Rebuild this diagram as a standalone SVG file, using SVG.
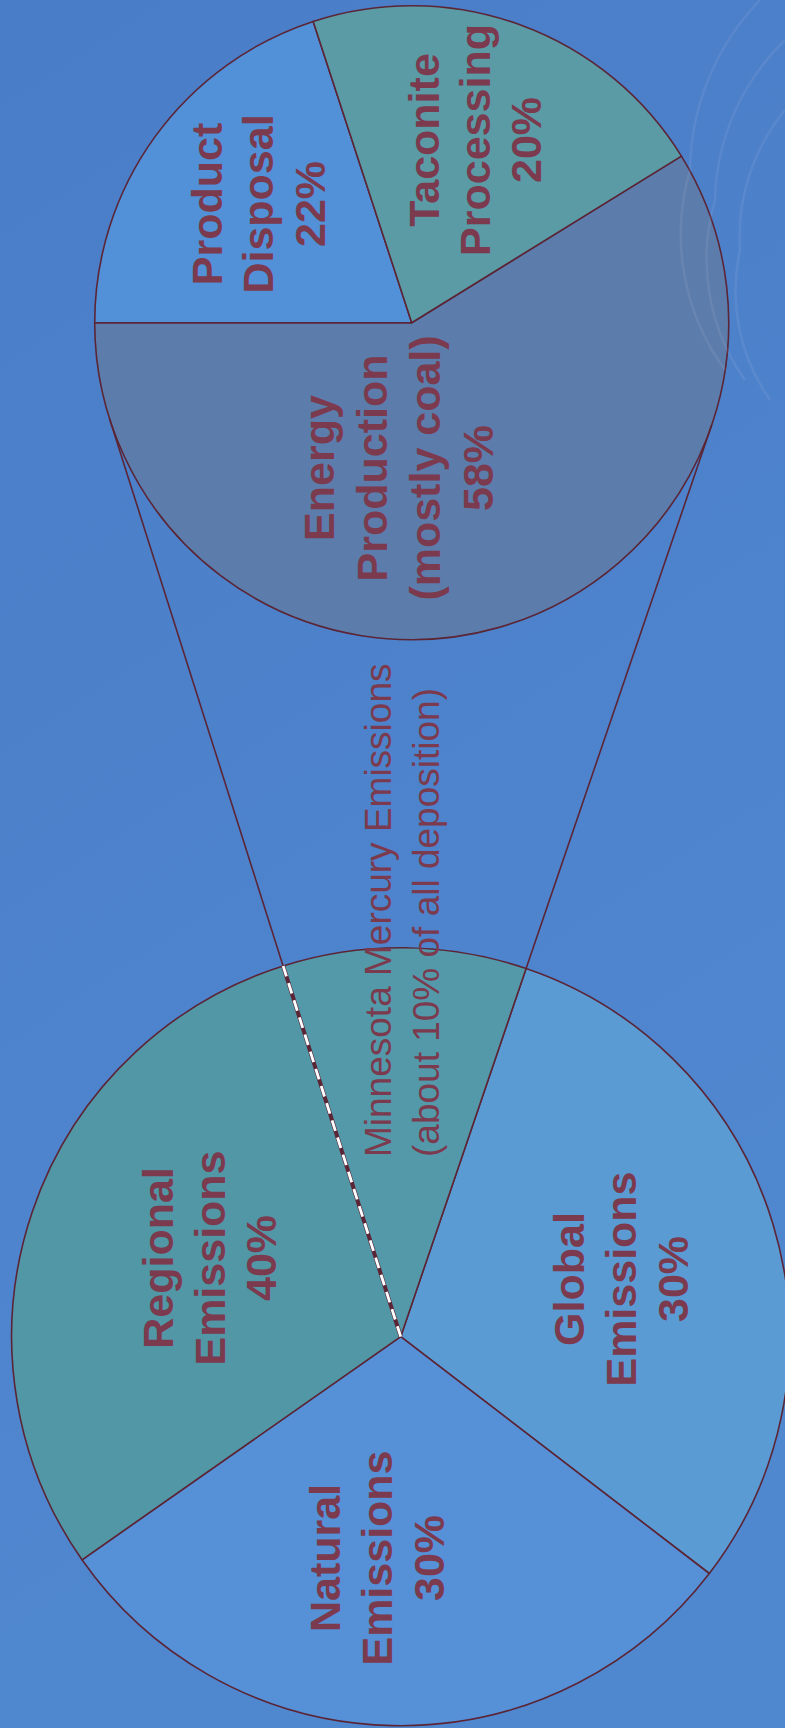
<svg xmlns="http://www.w3.org/2000/svg" width="785" height="1728" viewBox="0 0 785 1728">
<defs>
<linearGradient id="bg" x1="0" y1="0" x2="0.3" y2="1">
<stop offset="0" stop-color="#4a7dc7"/>
<stop offset="1" stop-color="#5088d0"/>
</linearGradient>
</defs>
<style>
.edge{stroke:#5b2536;stroke-width:1.6;stroke-linejoin:round}
.lbl{font-family:"Liberation Sans",Arial,sans-serif;font-weight:bold;font-size:43px;fill:#7b3a4e;text-anchor:middle}
.note{font-family:"Liberation Sans",Arial,sans-serif;font-size:37px;fill:#7b3a4e;text-anchor:start}
.conn{stroke:#5b2536;stroke-width:1.6;fill:none}
.glare{fill:none;stroke:#e8d8f0;stroke-opacity:0.09;stroke-width:2.5}
</style>
<rect x="0" y="0" width="785" height="1728" fill="url(#bg)"/>

<g id="top-pie">
<g id="energy-production">
<path class="edge" fill="#5c7dab" d="M411.7,322.7 L681.4,156.1 A317,317 0 1 1 94.7,322.7 Z"/>
<text class="lbl" transform="translate(334,468) rotate(-90)">Energy</text>
<text class="lbl" transform="translate(387,468) rotate(-90)">Production</text>
<text class="lbl" transform="translate(440,468) rotate(-90)">(mostly coal)</text>
<text class="lbl" transform="translate(493,468) rotate(-90)">58%</text>
</g>
<g id="product-disposal">
<path class="edge" fill="#5290d8" d="M411.7,322.7 L94.7,322.7 A317,317 0 0 1 313.2,21.4 Z"/>
<text class="lbl" transform="translate(222,204) rotate(-90)">Product</text>
<text class="lbl" transform="translate(273,204) rotate(-90)">Disposal</text>
<text class="lbl" transform="translate(325,204) rotate(-90)">22%</text>
</g>
<g id="taconite-processing">
<path class="edge" fill="#5a9ba6" d="M411.7,322.7 L313.2,21.4 A317,317 0 0 1 681.4,156.1 Z"/>
<text class="lbl" transform="translate(439,140) rotate(-90)">Taconite</text>
<text class="lbl" transform="translate(490,140) rotate(-90)">Processing</text>
<text class="lbl" transform="translate(541,140) rotate(-90)">20%</text>
</g>
</g>

<g id="glare">
<path class="glare" d="M760,0 A250,250 0 0 0 690,170 A230,230 0 0 0 725,370"/>
<path class="glare" d="M785,40 A230,230 0 0 0 715,200 A210,210 0 0 0 745,380"/>
<path class="glare" d="M785,110 A200,200 0 0 0 740,250 A190,190 0 0 0 770,400"/>
</g>

<g id="bottom-pie">
<g id="global-emissions">
<path class="edge" fill="#5b9bd3" d="M400.7,1336.7 L526.1,968.5 A389,389 0 0 1 709.3,1573.5 Z"/>
<text class="lbl" transform="translate(584,1279) rotate(-90)">Global</text>
<text class="lbl" transform="translate(636,1279) rotate(-90)">Emissions</text>
<text class="lbl" transform="translate(688,1279) rotate(-90)">30%</text>
</g>
<g id="natural-emissions">
<path class="edge" fill="#5690d7" d="M400.7,1336.7 L709.3,1573.5 A389,389 0 0 1 82.0,1559.8 Z"/>
<text class="lbl" transform="translate(340,1558) rotate(-90)">Natural</text>
<text class="lbl" transform="translate(392,1558) rotate(-90)">Emissions</text>
<text class="lbl" transform="translate(444,1558) rotate(-90)">30%</text>
</g>
<g id="regional-emissions">
<path class="edge" fill="#5297a6" d="M400.7,1336.7 L82.0,1559.8 A389,389 0 0 1 283.1,965.9 Z"/>
<text class="lbl" transform="translate(173,1258) rotate(-90)">Regional</text>
<text class="lbl" transform="translate(225,1258) rotate(-90)">Emissions</text>
<text class="lbl" transform="translate(276,1258) rotate(-90)">40%</text>
</g>
<g id="minnesota-emissions">
<path class="edge" fill="#5499a9" d="M400.7,1336.7 L283.1,965.9 A389,389 0 0 1 526.1,968.5 Z"/>
<line x1="400.7" y1="1336.7" x2="283.1" y2="965.9" stroke="#5b2536" stroke-width="4"/>
<line x1="400.7" y1="1336.7" x2="283.1" y2="965.9" stroke="#ffffff" stroke-width="2.8" stroke-dasharray="11 7"/>
</g>
</g>

<g id="connectors">
<line class="conn" x1="283.1" y1="965.9" x2="109.5" y2="418.5"/>
<line class="conn" x1="526.1" y1="968.5" x2="711.7" y2="425.1"/>
</g>

<g id="minnesota-label">
<text class="note" transform="translate(391,1157) rotate(-90)">Minnesota Mercury Emissions</text>
<text class="note" transform="translate(439,1157) rotate(-90)">(about 10% of all deposition)</text>
</g>
</svg>
